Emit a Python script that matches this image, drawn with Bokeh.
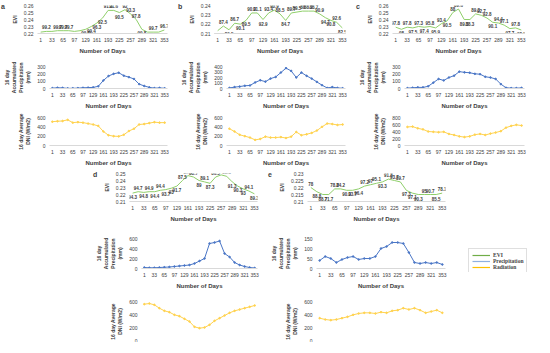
from bokeh.plotting import figure
from bokeh.layouts import row, column, Spacer
from bokeh.models import ColumnDataSource, FixedTicker, Range1d, Legend, LegendItem, Div
from bokeh.core.properties import value
from bokeh.embed import file_html
from bokeh.resources import INLINE

days = [1, 17, 33, 49, 65, 81, 97, 113, 129, 145, 161, 177, 193, 209, 225, 241, 257, 273, 289, 305, 321, 337, 353]
xticks = [1, 33, 65, 97, 129, 161, 193, 225, 257, 289, 321, 353]

# ---- panel a ----
evi_a = [0.222, 0.223, 0.223, 0.224, 0.224, 0.224, 0.223, 0.224, 0.226, 0.230, 0.235, 0.242, 0.253, 0.253, 0.250, 0.254, 0.248, 0.240, 0.226, 0.222, 0.222, 0.222, 0.225]
lab_a = ["98.7", "99.2", "99.7", "99.7", "99.7", "99.7", "99.7", "99.7", "99.7", "99.4", "96.3", "92.5", "91.3", "91.6", "90.5", "92", "93.3", "97.8", "99.8", "99.8", "99.7", "99.9", "96.7"]
pre_a = [5, 10, 8, 2, 3, 5, 10, 12, 15, 30, 110, 170, 200, 215, 175, 155, 130, 60, 35, 15, 5, 8, 3]
rad_a = [510, 520, 525, 550, 490, 500, 490, 470, 450, 420, 300, 220, 200, 195, 230, 310, 360, 450, 460, 480, 500, 490, 490]

# ---- panel b ----
evi_b = [0.213, 0.218, 0.214, 0.221, 0.220, 0.224, 0.232, 0.232, 0.225, 0.232, 0.235, 0.231, 0.224, 0.232, 0.233, 0.234, 0.234, 0.234, 0.231, 0.227, 0.224, 0.222, 0.216]
lab_b = ["91.7", "87.4", "89.5", "86.7", "90.1", "89.5", "90.3", "91.1", "92.9", "93.4", "90.9", "88.5", "84.7", "89.7", "89.5", "88", "88.2", "88.7", "90.9", "94.7", "90.8", "92.6", "82.5"]
pre_b = [10, 25, 35, 50, 55, 110, 150, 125, 180, 210, 290, 370, 320, 200, 290, 230, 180, 120, 60, 10, 25, 10, 5]
rad_b = [360, 300, 230, 200, 170, 120, 140, 190, 170, 170, 180, 160, 190, 290, 220, 240, 270, 320, 400, 470, 460, 440, 450]

# ---- panel c ----
evi_c = [0.229, 0.226, 0.229, 0.228, 0.230, 0.229, 0.230, 0.228, 0.234, 0.238, 0.250, 0.255, 0.240, 0.240, 0.248, 0.246, 0.242, 0.236, 0.235, 0.232, 0.227, 0.228, 0.225]
lab_c = ["97.8", "98", "97.8", "97.5", "97.3", "97.4", "95.8", "95.9", "93.4", "90.5", "88", "89.6", "89.3", "88.3", "89.3", "92.7", "92.8", "90.1", "94.4", "97.1", "97.7", "97.8", "98.8"]
pre_c = [5, 10, 15, 15, 30, 80, 130, 110, 150, 175, 230, 220, 215, 200, 195, 160, 150, 130, 60, 10, 5, 5, 8]
rad_c = [530, 540, 490, 460, 400, 390, 380, 390, 330, 300, 260, 240, 260, 310, 330, 300, 340, 370, 410, 510, 560, 590, 570]

# ---- panel d ----
evi_d = [0.222, 0.224, 0.223, 0.224, 0.224, 0.226, 0.227, 0.229, 0.232, 0.240, 0.247, 0.245, 0.240, 0.238, 0.236, 0.245, 0.248, 0.246, 0.238, 0.232, 0.228, 0.225, 0.221]
lab_d = ["94.3", "94.7", "94.8", "94.9", "94.4", "94.4", "93.7", "93", "91.7", "87.5", "87.1", "88.7", "89", "89.1", "87.3", "86.5", "85.9", "89.1", "91.3", "90.3", "93", "94.1", "89.3"]
pre_d = [20, 15, 15, 20, 25, 30, 40, 50, 60, 70, 100, 150, 200, 500, 520, 550, 300, 230, 120, 70, 40, 20, 10]
rad_d = [560, 570, 550, 500, 460, 440, 400, 380, 340, 300, 220, 200, 210, 250, 310, 350, 390, 430, 460, 480, 500, 520, 540]

# ---- panel e ----
evi_e = [0.220, 0.217, 0.215, 0.215, 0.219, 0.219, 0.218, 0.218, 0.219, 0.221, 0.222, 0.223, 0.224, 0.226, 0.225, 0.224, 0.218, 0.216, 0.215, 0.215, 0.215, 0.215, 0.216]
lab_e = ["78", "88.8", "88.7", "71.7", "78.2", "84.2", "90.3", "93.7", "96.4", "97.2", "97", "95.1", "93.3", "91.8", "93.7", "89.7", "97.3", "97.1", "90.3", "95", "90.7", "85.5", "78.1"]
pre_e = [40, 60, 50, 30, 45, 55, 60, 45, 50, 50, 60, 100, 110, 130, 130, 125, 80, 30, 25, 30, 25, 30, 20]
rad_e = [350, 330, 320, 330, 350, 370, 400, 420, 430, 430, 420, 440, 430, 460, 470, 500, 480, 500, 470, 430, 450, 470, 430]

GREEN = "#8fcf6a"
BLUE = "#4a76c6"
YELLOW = "#ffd34f"
TXT = "#404040"
FONT = "Liberation Sans"

PRE_LABEL = "16 day\nAccumulated\nPrecipitation\n(mm)"
RAD_LABEL = "16 day Average\nDNI (W/m2)"


def base(w, fh, yr, yticks, ylabel, show_x=True, top=4):
    p = figure(width=w, frame_height=fh, output_backend="svg", toolbar_location=None,
               x_range=Range1d(-8, 362), y_range=Range1d(yr[0], yr[1]))
    p.min_border_left = 2
    p.min_border_right = 10
    p.min_border_top = top
    p.min_border_bottom = 1
    p.outline_line_color = None
    p.grid.visible = False
    xa = p.xaxis[0]
    xa.ticker = FixedTicker(ticks=xticks)
    xa.axis_line_color = "#d9d9d9"
    xa.major_tick_line_color = None
    xa.minor_tick_line_color = None
    xa.major_tick_out = 0
    xa.major_tick_in = 0
    xa.minor_tick_out = 0
    xa.major_label_text_font_size = "5px"
    xa.major_label_text_font = FONT
    xa.major_label_text_color = TXT
    xa.major_label_standoff = 4
    if show_x:
        xa.axis_label = "Number of Days"
        xa.axis_label_text_font_size = "6px"
        xa.axis_label_text_font = FONT
        xa.axis_label_text_font_style = "bold"
        xa.axis_label_text_color = TXT
        xa.axis_label_standoff = 3
    else:
        xa.visible = False
    ya = p.yaxis[0]
    ya.ticker = FixedTicker(ticks=yticks)
    ya.axis_line_color = None
    ya.major_tick_line_color = None
    ya.minor_tick_line_color = None
    ya.major_tick_out = 0
    ya.major_tick_in = 0
    ya.minor_tick_out = 0
    ya.major_label_text_font_size = "5px"
    ya.major_label_text_font = FONT
    ya.major_label_text_color = TXT
    ya.major_label_standoff = 4
    ya.axis_label = ylabel
    ya.axis_label_text_font_size = "5px"
    ya.axis_label_text_font = FONT
    ya.axis_label_text_font_style = "bold"
    ya.axis_label_text_color = TXT
    ya.axis_label_standoff = 3
    return p


def evi_fig(w, fh, vals, labels, yr, yticks, letter):
    p = base(w - 8, fh, yr, yticks, "EVI", top=5)
    p.line(days, vals, color=GREEN, line_width=1)
    offs = []
    n = len(vals)
    for i in range(n):
        nb = [vals[j] for j in (i - 1, i + 1) if 0 <= j < n]
        offs.append(-4 if vals[i] >= sum(nb) / len(nb) else 4)
    src = ColumnDataSource(dict(x=days, y=vals, t=labels, o=offs))
    p.text(x="x", y="y", text="t", y_offset="o", source=src, text_font_size="4.5px",
           text_font=value(FONT), text_font_style="bold", text_color=TXT,
           text_align="center", text_baseline="middle")
    d = Div(text=letter, width=8, margin=(0, 0, 0, 0),
            styles={"font-size": "7px", "font-weight": "bold", "font-family": FONT,
                    "color": TXT, "line-height": "7px", "margin-top": "3px", "padding-left": "1px"})
    return row(d, p, spacing=0)


def pre_fig(w, fh, vals, yr, yticks, top=10):
    p = base(w, fh, yr, yticks, PRE_LABEL, top=top)
    p.line(days, vals, color=BLUE, line_width=1)
    p.scatter(days, vals, color=BLUE, size=1.6)
    return p


def rad_fig(w, fh, vals, yr, yticks, show_x=True, top=6):
    p = base(w, fh, yr, yticks, RAD_LABEL, show_x=show_x, top=top)
    p.line(days, vals, color=YELLOW, line_width=1)
    p.scatter(days, vals, color=YELLOW, size=1.6)
    return p


def col(w, fhs, tops, evi, lab, eyr, eticks, pre, pyr, pticks, rad, ryr, rticks, letter, rad_x=True):
    return column(
        evi_fig(w, fhs[0], evi, lab, eyr, eticks, letter),
        pre_fig(w, fhs[1], pre, pyr, pticks, top=tops[0]),
        rad_fig(w, fhs[2], rad, ryr, rticks, show_x=rad_x, top=tops[1]),
        spacing=0)


top_fh = [28, 22, 28]
top_tops = [10, 6]
ca = col(177, top_fh, top_tops, evi_a, lab_a, (0.22, 0.26), [0.22, 0.23, 0.24, 0.25, 0.26],
         pre_a, (0, 300), [0, 100, 200, 300], rad_a, (0, 600), [0, 200, 400, 600], "a")
cb = col(178, top_fh, top_tops, evi_b, lab_b, (0.21, 0.24), [0.21, 0.22, 0.23, 0.24],
         pre_b, (0, 400), [0, 100, 200, 300, 400], rad_b, (0, 600), [0, 200, 400, 600], "b")
cc = col(179, top_fh, top_tops, evi_c, lab_c, (0.22, 0.26), [0.22, 0.23, 0.24, 0.25, 0.26],
         pre_c, (0, 300), [0, 100, 200, 300], rad_c, (0, 800), [0, 200, 400, 600, 800], "c")

bot_fh = [28, 30, 40]
bot_tops = [14, 10]
cd = col(175, bot_fh, bot_tops, evi_d, lab_d, (0.21, 0.25), [0.21, 0.22, 0.23, 0.24, 0.25],
         pre_d, (0, 600), [0, 200, 400, 600], rad_d, (0, 600), [0, 200, 400, 600], "d", rad_x=False)
ce = col(188, bot_fh, bot_tops, evi_e, lab_e, (0.21, 0.23), [0.21, 0.215, 0.22, 0.225, 0.23],
         pre_e, (0, 150), [0, 50, 100, 150], rad_e, (0, 600), [0, 200, 400, 600], "e", rad_x=False)

# legend box
lg = figure(width=66, height=24, output_backend="svg", toolbar_location=None,
            x_range=Range1d(0, 1), y_range=Range1d(0, 1))
lg.axis.visible = False
lg.grid.visible = False
lg.outline_line_color = None
lg.min_border = 0
r1 = lg.line([5, 6], [5, 6], color="#70ad47", line_width=1.2)
r2 = lg.line([5, 6], [5, 6], color="#8fb0e0", line_width=1.2)
r3 = lg.line([5, 6], [5, 6], color="#ffc000", line_width=1.2)
legend = Legend(items=[LegendItem(label="EVI", renderers=[r1]),
                       LegendItem(label="Precipitation", renderers=[r2]),
                       LegendItem(label="Radiation", renderers=[r3])],
                location="top_left", border_line_color="#bfbfbf", border_line_width=1,
                label_text_font="Liberation Serif", label_text_font_size="5.5px",
                label_text_font_style="bold", label_height=6, glyph_height=6, glyph_width=18,
                spacing=0, padding=3, margin=0, label_standoff=3,
                background_fill_color="white")
lg.add_layout(legend, "center")

leg_col = column(Spacer(width=79, height=80), row(Spacer(width=13, height=24), lg))

top = row(ca, cb, cc, spacing=0)
bottom = row(Spacer(width=92, height=150), cd, ce, leg_col, spacing=0)
layout = column(top, bottom, spacing=0)

open("out.html", "w").write(file_html(layout, INLINE))
